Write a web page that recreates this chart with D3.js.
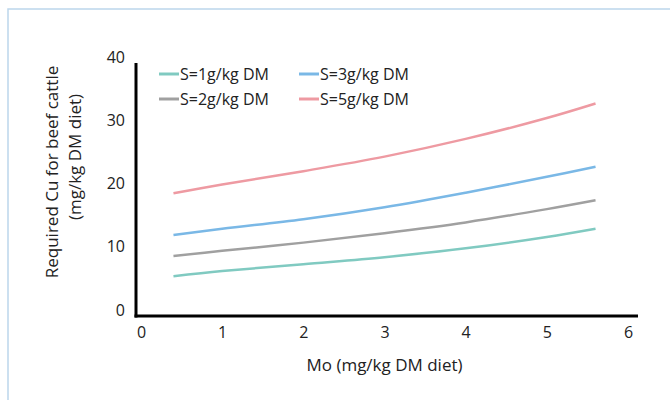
<!DOCTYPE html>
<html>
<head>
<meta charset="utf-8">
<script src="https://cdn.jsdelivr.net/npm/d3@7"></script>
<style>
  body { margin: 0; background: #fff; }
  svg { display: block; font-family: "Open Sans", "Noto Sans", sans-serif; }
</style>
</head>
<body>
<svg id="chart" width="670" height="400"></svg>
<script>
// Mo level in the diet (x)
const mo = [0.4, 1, 2, 3, 4, 5, 5.6];

// required Cu for each S level
const s1 = [6.3, 7.1, 8.2, 9.3, 10.7, 12.5, 13.8];
const s2 = [9.5, 10.3, 11.6, 13.1, 14.8, 16.9, 18.3];
const s3 = [12.8, 13.8, 15.3, 17.2, 19.5, 22.0, 23.6];
const s5 = [19.4, 20.8, 22.9, 25.2, 28.0, 31.3, 33.6];

const seriesNames = ['S=1g/kg DM', 'S=3g/kg DM', 'S=2g/kg DM', 'S=5g/kg DM'];
const seriesValues = [s1, s3, s2, s5];
const colors = ['#80cac1', '#7ab8e6', '#a0a0a0', '#ee9aa2'];

const xTicks = [0, 1, 2, 3, 4, 5, 6];
const yTicks = [0, 10, 20, 30, 40];

const svg = d3.select('#chart');

// light blue frame (runs off the right and bottom edge)
svg.append('rect')
    .attr('x', 8).attr('y', 9)
    .attr('width', 700).attr('height', 420)
    .attr('fill', 'none')
    .attr('stroke', '#bcd6ec')
    .attr('stroke-width', 1.5);

const xscale = d3.scaleLinear().domain([0, 6]).range([141, 628]);
const yscale = d3.scaleLinear().domain([0, 40]).range([316, 63]);

// axes (labels only, lines drawn below)
const xaxis = d3.axisBottom(xscale).tickValues(xTicks).tickFormat(d3.format('d'))
    .tickSize(0).tickPadding(11);
const yaxis = d3.axisLeft(yscale).tickValues(yTicks).tickFormat(d3.format('d'))
    .tickSize(0).tickPadding(11);

const xg = svg.append('g')
    .attr('transform', `translate(0, ${yscale(0)})`)
    .call(xaxis);
const yg = svg.append('g')
    .attr('transform', `translate(${xscale(0) - 5}, 0)`)
    .call(yaxis);

[xg, yg].forEach(g => {
    g.select('.domain').remove();
    g.selectAll('text')
        .attr('font-family', '"Open Sans", sans-serif')
        .attr('font-size', 16)
        .attr('fill', '#222');
});
yg.selectAll('text').attr('dy', '-0.05em');

// black axis lines
svg.append('line')
    .attr('x1', xscale(0) - 6.5).attr('x2', xscale(6) + 10)
    .attr('y1', yscale(0)).attr('y2', yscale(0))
    .attr('stroke', '#000').attr('stroke-width', 3);
svg.append('line')
    .attr('x1', xscale(0) - 5).attr('x2', xscale(0) - 5)
    .attr('y1', yscale(40)).attr('y2', yscale(0) + 1.5)
    .attr('stroke', '#000').attr('stroke-width', 3);

// series lines
const line = d3.line()
    .x((d, i) => xscale(mo[i]))
    .y(d => yscale(d))
    .curve(d3.curveCatmullRom);

svg.selectAll('path.series')
    .data(seriesValues)
    .join('path')
    .attr('class', 'series')
    .attr('d', line)
    .attr('fill', 'none')
    .attr('stroke', (d, i) => colors[i])
    .attr('stroke-width', 2.5);

// legend, two columns x two rows
const legend = svg.append('g');
const item = legend.selectAll('g')
    .data(seriesNames)
    .join('g')
    .attr('transform', (d, i) => `translate(${159 + (i % 2) * 140}, ${74 + Math.floor(i / 2) * 25})`);
item.append('line')
    .attr('x1', 0).attr('x2', 20)
    .attr('stroke', (d, i) => colors[i])
    .attr('stroke-width', 3);
item.append('text')
    .attr('x', 21)
    .attr('dy', '0.35em')
    .attr('font-size', 16)
    .attr('fill', '#222')
    .text(d => d);

// axis titles
svg.append('text')
    .attr('x', xscale(3)).attr('y', 365)
    .attr('dy', '0.35em')
    .attr('text-anchor', 'middle')
    .attr('font-size', 17)
    .attr('fill', '#222')
    .text('Mo (mg/kg DM diet)');

svg.append('text')
    .attr('transform', 'translate(52, 172) rotate(-90)')
    .attr('dy', '0.35em')
    .attr('text-anchor', 'middle')
    .attr('font-size', 17)
    .attr('fill', '#222')
    .text('Required Cu for beef cattle');
svg.append('text')
    .attr('transform', 'translate(75, 157) rotate(-90)')
    .attr('dy', '0.35em')
    .attr('text-anchor', 'middle')
    .attr('font-size', 17)
    .attr('fill', '#222')
    .text('(mg/kg DM diet)');
</script>
</body>
</html>
